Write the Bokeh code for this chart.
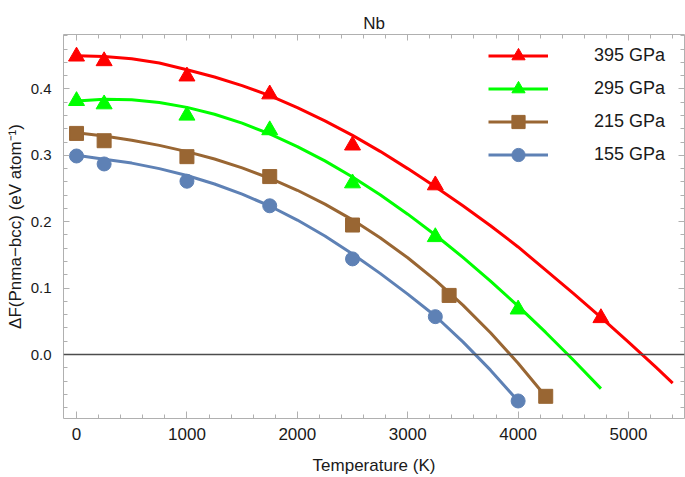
from bokeh.plotting import figure
from bokeh.models import (Range1d, LinearAxis, SingleIntervalTicker, PrintfTickFormatter,
                          Legend, LegendItem, Span)
from bokeh.embed import file_html
from bokeh.resources import INLINE

# ---------------- data ----------------
title_text = "Nb"
x_label = "Temperature (K)"
y_label = "ΔF(Pnma−bcc) (eV atom⁻¹)"

series_names = ["395 GPa", "295 GPa", "215 GPa", "155 GPa"]
series_colors = ["#FF0000", "#00FF00", "#996633", "#5E81B5"]
series_markers = ["triangle", "triangle", "square", "circle"]

# measured points
pts_T_395 = [0, 250, 1000, 1750, 2500, 3250, 4750]
pts_F_395 = [0.449, 0.442, 0.419, 0.392, 0.315, 0.255, 0.055]
pts_T_295 = [0, 250, 1000, 1750, 2500, 3250, 4000]
pts_F_295 = [0.382, 0.377, 0.360, 0.338, 0.258, 0.177, 0.068]
pts_T_215 = [0, 250, 1000, 1750, 2500, 3375, 4250]
pts_F_215 = [0.333, 0.322, 0.298, 0.268, 0.195, 0.089, -0.063]
pts_T_155 = [0, 250, 1000, 1750, 2500, 3250, 4000]
pts_F_155 = [0.299, 0.287, 0.261, 0.224, 0.144, 0.057, -0.070]

# fitted curves
fit_T_395 = [0, 250, 500, 750, 1000, 1250, 1500, 1750, 2000, 2250, 2500, 2750, 3000,
             3250, 3500, 3750, 4000, 4250, 4500, 4750, 5000, 5250, 5400]
fit_F_395 = [0.450, 0.449, 0.4455, 0.439, 0.429, 0.418, 0.405, 0.390, 0.372, 0.352, 0.330,
             0.306, 0.280, 0.2526, 0.224, 0.194, 0.162, 0.127, 0.092, 0.056, 0.0188, -0.0195, -0.043]
fit_T_295 = [0, 250, 500, 750, 1000, 1250, 1500, 1750, 2000, 2250, 2500, 2750, 3000,
             3250, 3500, 3750, 4000, 4250, 4500, 4750]
fit_F_295 = [0.382, 0.3845, 0.3836, 0.3795, 0.3722, 0.3618, 0.3485, 0.3322, 0.3132, 0.2916, 0.2673,
             0.2405, 0.2114, 0.1800, 0.1463, 0.1106, 0.0728, 0.0332, -0.0083, -0.0514]
fit_T_215 = [0, 250, 500, 750, 1000, 1250, 1500, 1750, 2000, 2250, 2500, 2750, 3000,
             3250, 3500, 3750, 4000, 4250]
fit_F_215 = [0.334, 0.329, 0.3227, 0.315, 0.3056, 0.2944, 0.2811, 0.2655, 0.2474, 0.2265, 0.2028,
             0.1759, 0.1457, 0.1119, 0.0743, 0.0327, -0.0131, -0.0633]
fit_T_155 = [0, 250, 500, 750, 1000, 1250, 1500, 1750, 2000, 2250, 2500, 2750, 3000,
             3250, 3500, 3750, 4000]
fit_F_155 = [0.300, 0.294, 0.2883, 0.2800, 0.2696, 0.2568, 0.2415, 0.2237, 0.2025, 0.1785, 0.1515,
             0.1222, 0.0910, 0.0580, 0.0190, -0.0236, -0.070]

pts_T = [pts_T_395, pts_T_295, pts_T_215, pts_T_155]
pts_F = [pts_F_395, pts_F_295, pts_F_215, pts_F_155]
fit_T = [fit_T_395, fit_T_295, fit_T_215, fit_T_155]
fit_F = [fit_F_395, fit_F_295, fit_F_215, fit_F_155]

x_tick_interval = 1000
y_tick_interval = 0.1
baseline = 0.0

FONT = "Liberation Sans"
FRAME = "#b0b0b0"

p = figure(width=685, height=477, output_backend="svg", toolbar_location=None,
           x_range=Range1d(-118, 5507), y_range=Range1d(-0.0964, 0.482),
           min_border_left=63, min_border_right=1, min_border_top=34, min_border_bottom=59,
           x_axis_type=None, y_axis_type=None)
p.grid.visible = False
p.outline_line_color = None
p.background_fill_color = "white"

def style_axis(ax, show_labels, tick_in_major, tick_in_minor, font_size):
    ax.axis_line_color = FRAME
    ax.axis_line_width = 1
    ax.major_tick_line_color = FRAME
    ax.minor_tick_line_color = FRAME
    ax.major_tick_in = tick_in_major
    ax.major_tick_out = 0
    ax.minor_tick_in = tick_in_minor
    ax.minor_tick_out = 0
    if show_labels:
        ax.major_label_text_font = FONT
        ax.major_label_text_font_size = font_size
        ax.major_label_text_color = "#1a1a1a"
        ax.axis_label_text_font = FONT
        ax.axis_label_text_font_size = "17px"
        ax.axis_label_text_font_style = "normal"
        ax.axis_label_text_color = "#1a1a1a"
    else:
        ax.major_label_text_font_size = "0px"
        ax.major_label_standoff = 0
        ax.axis_label = None

xt = SingleIntervalTicker(interval=x_tick_interval, num_minor_ticks=5)
yt = SingleIntervalTicker(interval=y_tick_interval, num_minor_ticks=5)

xb = LinearAxis(ticker=xt, axis_label=x_label)
style_axis(xb, True, 7, 4, "17px")
xb.major_label_standoff = 9
xb.axis_label_standoff = 13
p.add_layout(xb, "below")

yl = LinearAxis(ticker=yt, axis_label=y_label, formatter=PrintfTickFormatter(format="%.1f"))
style_axis(yl, True, 6, 4, "15px")
yl.major_label_standoff = 12
yl.axis_label_standoff = 3
p.add_layout(yl, "left")

xa = LinearAxis(ticker=xt)
style_axis(xa, False, 6, 4, "0px")
xa.major_label_standoff = 7
p.add_layout(xa, "above")

yr = LinearAxis(ticker=yt)
style_axis(yr, False, 6, 4, "0px")
p.add_layout(yr, "right")

p.add_layout(Span(location=baseline, dimension="width", line_color="#4d4d4d", line_width=1.3))

items = []
sizes = {"triangle": 16, "square": 14, "circle": 14}
for name, col, mk, tx, fx, tp, fp in zip(series_names, series_colors, series_markers,
                                         fit_T, fit_F, pts_T, pts_F):
    ln = p.line(tx, fx, line_color=col, line_width=3, line_join="round")
    sc = p.scatter(tp, fp, marker=mk, size=sizes[mk], fill_color=col, line_color=col)
    items.append(LegendItem(label=name, renderers=[ln, sc]))

legend = Legend(items=items, location="top_right")
legend.background_fill_alpha = 0
legend.border_line_color = None
legend.glyph_width = 60
legend.glyph_height = 33
legend.spacing = 0
legend.label_standoff = 46
legend.label_width = 85
legend.label_height = 20
legend.padding = 0
legend.margin = 5
legend.label_text_font = FONT
legend.label_text_font_size = "18px"
legend.label_text_color = "#1a1a1a"
p.add_layout(legend, "center")

p.title.text = title_text
p.title.align = "center"
p.title.vertical_align = "top"
p.title.text_font = FONT
p.title.text_font_size = "17px"
p.title.text_font_style = "normal"
p.title.text_color = "#1a1a1a"
p.title.standoff = 0

open("out.html", "w").write(file_html(p, INLINE))
